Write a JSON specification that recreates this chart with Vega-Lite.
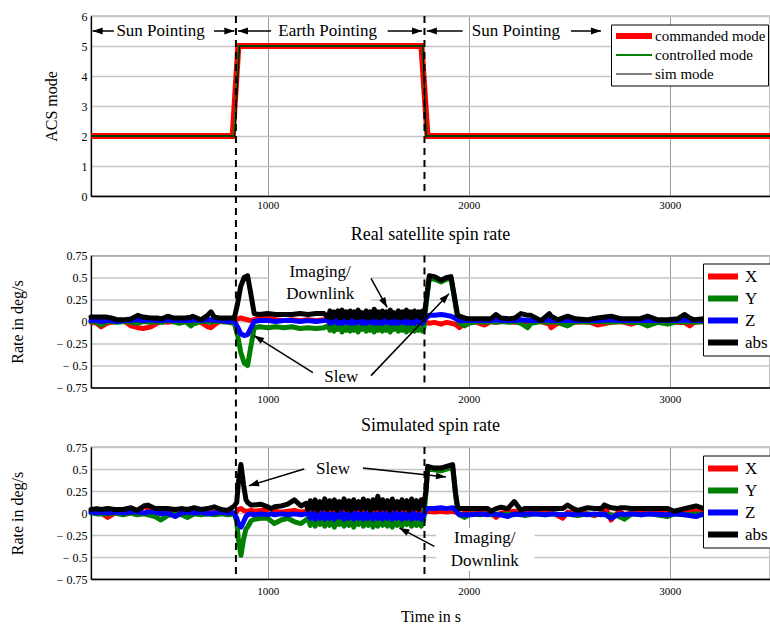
{
 "$schema": "https://vega.github.io/schema/vega-lite/v6.json",
 "padding": {"left": 8, "top": 9, "right": 0, "bottom": 0},
 "bounds": "flush",
 "spacing": 59.5,
 "resolve": {"scale": {"color": "independent", "strokeWidth": "independent", "x": "independent", "y": "independent"}, "legend": {"color": "independent", "strokeWidth": "independent"}},
 "config": {
  "font": "Liberation Serif",
  "view": {"stroke": "#333", "strokeWidth": 1.2},
  "axis": {"labelFont": "Liberation Serif", "titleFont": "Liberation Serif", "labelColor": "#000", "titleColor": "#000", "titleFontWeight": "normal", "titleFontSize": 16, "labelFontSize": 12, "domainColor": "#000", "domainWidth": 1.3, "ticks": false, "grid": true, "labelOverlap": false, "labelFlush": false, "labelSeparation": -20},
  "axisX": {"gridColor": "#999", "gridWidth": 1, "labelFontSize": 11, "labelPadding": 6},
  "axisY": {"gridColor": "#c4c4c4", "gridWidth": 1.5, "labelPadding": 4},
  "title": {"font": "Liberation Serif", "fontSize": 18, "fontWeight": "normal", "color": "#000", "offset": 6},
  "legend": {"labelFont": "Liberation Serif", "labelColor": "#000"}
 },
 "datasets": {
  "mode": [
   {"t": 121, "series": "commanded mode", "v": 2}, {"t": 826, "series": "commanded mode", "v": 2}, {"t": 854, "series": "commanded mode", "v": 5}, {"t": 1765, "series": "commanded mode", "v": 5}, {"t": 1795, "series": "commanded mode", "v": 2}, {"t": 3499, "series": "commanded mode", "v": 2},
   {"t": 121, "series": "controlled mode", "v": 2}, {"t": 832, "series": "controlled mode", "v": 2}, {"t": 857, "series": "controlled mode", "v": 5}, {"t": 1770, "series": "controlled mode", "v": 5}, {"t": 1790, "series": "controlled mode", "v": 2}, {"t": 3499, "series": "controlled mode", "v": 2},
   {"t": 121, "series": "sim mode", "v": 2}, {"t": 836, "series": "sim mode", "v": 2}, {"t": 860, "series": "sim mode", "v": 5}, {"t": 1772, "series": "sim mode", "v": 5}, {"t": 1788, "series": "sim mode", "v": 2}, {"t": 3499, "series": "sim mode", "v": 2}
  ],
  "real": [
   {"t":121,"X":-0.01,"Y":0,"Z":0.01,"abs":0.05},{"t":150,"X":-0.02,"Y":-0.01,"Z":0.01,"abs":0.05},{"t":171,"X":-0.06,"Y":-0.04,"Z":0,"abs":0.05},{"t":200,"X":-0.02,"Y":0,"Z":0.01,"abs":0.05},{"t":221,"X":-0.01,"Y":0,"Z":0.01,"abs":0.04},{"t":250,"X":0,"Y":-0.01,"Z":0,"abs":0.02},{"t":290,"X":0,"Y":0,"Z":0.01,"abs":0.02},{"t":320,"X":-0.05,"Y":-0.01,"Z":0.01,"abs":0.03},{"t":353,"X":-0.07,"Y":-0.02,"Z":0.02,"abs":0.07},{"t":380,"X":-0.08,"Y":0,"Z":0.01,"abs":0.05},{"t":419,"X":-0.06,"Y":-0.01,"Z":0.02,"abs":0.04},{"t":450,"X":-0.02,"Y":0,"Z":0.01,"abs":0.04},{"t":475,"X":0,"Y":-0.01,"Z":0.01,"abs":0.03},{"t":502,"X":-0.01,"Y":0.01,"Z":0.02,"abs":0.06},{"t":530,"X":0,"Y":0,"Z":0.01,"abs":0.04},{"t":560,"X":-0.01,"Y":-0.02,"Z":0.01,"abs":0.04},{"t":590,"X":0,"Y":0,"Z":0.01,"abs":0.04},{"t":619,"X":-0.01,"Y":-0.05,"Z":0.01,"abs":0.05},{"t":627,"X":0,"Y":-0.03,"Z":0.02,"abs":0.06},{"t":668,"X":-0.01,"Y":0,"Z":0.01,"abs":0.02},{"t":701,"X":-0.06,"Y":0,"Z":0.02,"abs":0.07},{"t":718,"X":-0.07,"Y":-0.01,"Z":0.02,"abs":0.11},{"t":734,"X":-0.04,"Y":0,"Z":0.01,"abs":0.05},{"t":760,"X":0,"Y":0,"Z":0.01,"abs":0.04},{"t":800,"X":0,"Y":-0.01,"Z":0,"abs":0.04},{"t":834,"X":0.01,"Y":-0.02,"Z":0,"abs":0.04},
   {"t":850,"X":0.03,"Y":-0.15,"Z":-0.06,"abs":0.2},{"t":866,"X":0.04,"Y":-0.35,"Z":-0.14,"abs":0.4},{"t":883,"X":0.03,"Y":-0.47,"Z":-0.16,"abs":0.5},{"t":900,"X":0.02,"Y":-0.5,"Z":-0.15,"abs":0.52},{"t":915,"X":0.01,"Y":-0.3,"Z":-0.08,"abs":0.33},{"t":933,"X":0.02,"Y":-0.07,"Z":0,"abs":0.09},{"t":960,"X":0.05,"Y":-0.06,"Z":0.01,"abs":0.08},{"t":1000,"X":0.04,"Y":-0.07,"Z":0.01,"abs":0.09},{"t":1040,"X":0.02,"Y":-0.06,"Z":0,"abs":0.08},{"t":1080,"X":0.01,"Y":-0.07,"Z":0.01,"abs":0.08},{"t":1120,"X":0.02,"Y":-0.06,"Z":0.01,"abs":0.08},{"t":1160,"X":0.01,"Y":-0.08,"Z":0,"abs":0.09},{"t":1200,"X":0.02,"Y":-0.07,"Z":0.01,"abs":0.08},{"t":1240,"X":0.01,"Y":-0.08,"Z":0,"abs":0.09},{"t":1280,"X":0.02,"Y":-0.07,"Z":0.01,"abs":0.09},
   {"t":1300,"X":0.01,"Y":-0.05,"Z":0.02,"abs":0.05},{"t":1310,"X":0.03,"Y":-0.1,"Z":-0.02,"abs":0.12},{"t":1320,"X":0,"Y":-0.04,"Z":0.02,"abs":0.04},{"t":1330,"X":0.02,"Y":-0.11,"Z":-0.01,"abs":0.11},{"t":1340,"X":0.01,"Y":-0.05,"Z":0.02,"abs":0.06},{"t":1350,"X":0.03,"Y":-0.09,"Z":-0.02,"abs":0.12},{"t":1360,"X":0,"Y":-0.04,"Z":0.01,"abs":0.04},{"t":1370,"X":0.02,"Y":-0.12,"Z":-0.02,"abs":0.13},{"t":1380,"X":0.01,"Y":-0.05,"Z":0.02,"abs":0.05},{"t":1390,"X":0.03,"Y":-0.1,"Z":-0.01,"abs":0.11},{"t":1400,"X":0,"Y":-0.03,"Z":0.02,"abs":0.04},{"t":1410,"X":0.02,"Y":-0.11,"Z":-0.02,"abs":0.12},{"t":1420,"X":0.01,"Y":-0.05,"Z":0.01,"abs":0.06},{"t":1430,"X":0.02,"Y":-0.1,"Z":-0.02,"abs":0.11},{"t":1440,"X":0,"Y":-0.04,"Z":0.02,"abs":0.04},{"t":1450,"X":0.03,"Y":-0.12,"Z":-0.01,"abs":0.13},{"t":1460,"X":0.01,"Y":-0.05,"Z":0.02,"abs":0.05},{"t":1470,"X":0.02,"Y":-0.09,"Z":-0.02,"abs":0.1},{"t":1480,"X":0,"Y":-0.04,"Z":0.02,"abs":0.05},{"t":1490,"X":0.03,"Y":-0.11,"Z":-0.02,"abs":0.12},{"t":1500,"X":0.01,"Y":-0.05,"Z":0.01,"abs":0.04},{"t":1510,"X":0.02,"Y":-0.1,"Z":-0.01,"abs":0.11},{"t":1520,"X":0,"Y":-0.04,"Z":0.02,"abs":0.05},{"t":1530,"X":0.03,"Y":-0.12,"Z":-0.02,"abs":0.14},{"t":1540,"X":0.01,"Y":-0.05,"Z":0.02,"abs":0.05},{"t":1550,"X":0.02,"Y":-0.1,"Z":-0.02,"abs":0.11},{"t":1560,"X":0,"Y":-0.04,"Z":0.01,"abs":0.04},{"t":1570,"X":0.03,"Y":-0.11,"Z":-0.02,"abs":0.12},{"t":1580,"X":0.01,"Y":-0.05,"Z":0.02,"abs":0.06},{"t":1590,"X":0.02,"Y":-0.1,"Z":-0.01,"abs":0.11},{"t":1600,"X":0,"Y":-0.04,"Z":0.02,"abs":0.04},{"t":1610,"X":0.03,"Y":-0.12,"Z":-0.02,"abs":0.13},{"t":1620,"X":0.01,"Y":-0.05,"Z":0.02,"abs":0.05},{"t":1630,"X":0.02,"Y":-0.09,"Z":-0.02,"abs":0.1},{"t":1640,"X":0,"Y":-0.04,"Z":0.01,"abs":0.05},{"t":1650,"X":0.03,"Y":-0.11,"Z":-0.02,"abs":0.12},{"t":1660,"X":0.01,"Y":-0.05,"Z":0.02,"abs":0.04},{"t":1670,"X":0.02,"Y":-0.1,"Z":-0.01,"abs":0.11},{"t":1680,"X":0,"Y":-0.04,"Z":0.02,"abs":0.05},{"t":1690,"X":0.03,"Y":-0.12,"Z":-0.02,"abs":0.13},{"t":1700,"X":0.01,"Y":-0.05,"Z":0.02,"abs":0.05},{"t":1710,"X":0.02,"Y":-0.1,"Z":-0.02,"abs":0.11},{"t":1720,"X":0,"Y":-0.04,"Z":0.01,"abs":0.04},{"t":1730,"X":0.03,"Y":-0.11,"Z":-0.02,"abs":0.12},{"t":1740,"X":0.01,"Y":-0.05,"Z":0.02,"abs":0.06},{"t":1750,"X":0.02,"Y":-0.1,"Z":-0.01,"abs":0.11},{"t":1760,"X":0,"Y":-0.04,"Z":0.02,"abs":0.04},{"t":1770,"X":0.02,"Y":-0.11,"Z":-0.02,"abs":0.12},{"t":1778,"X":0,"Y":-0.06,"Z":0.01,"abs":0.06},
   {"t":1788,"X":-0.01,"Y":0.2,"Z":0.04,"abs":0.22},{"t":1804,"X":-0.02,"Y":0.49,"Z":0.07,"abs":0.52},{"t":1830,"X":-0.01,"Y":0.48,"Z":0.07,"abs":0.51},{"t":1862,"X":-0.03,"Y":0.45,"Z":0.08,"abs":0.47},{"t":1890,"X":-0.01,"Y":0.48,"Z":0.07,"abs":0.5},{"t":1912,"X":-0.02,"Y":0.49,"Z":0.06,"abs":0.51},{"t":1930,"X":-0.03,"Y":0.25,"Z":0.04,"abs":0.27},{"t":1945,"X":-0.05,"Y":0.03,"Z":0.02,"abs":0.07},{"t":1954,"X":-0.07,"Y":-0.02,"Z":0.01,"abs":0.06},{"t":1979,"X":-0.02,"Y":-0.05,"Z":0.01,"abs":0.04},{"t":2000,"X":0,"Y":-0.02,"Z":0.01,"abs":0.03},{"t":2040,"X":-0.01,"Y":0,"Z":0.01,"abs":0.03},{"t":2078,"X":-0.04,"Y":-0.01,"Z":0.01,"abs":0.03},{"t":2110,"X":0,"Y":0,"Z":0.01,"abs":0.03},{"t":2136,"X":-0.01,"Y":-0.01,"Z":0.02,"abs":0.08},{"t":2160,"X":0,"Y":0,"Z":0.01,"abs":0.04},{"t":2200,"X":0,"Y":-0.01,"Z":0.01,"abs":0.03},{"t":2230,"X":-0.01,"Y":0,"Z":0.01,"abs":0.04},{"t":2260,"X":0,"Y":-0.02,"Z":0.02,"abs":0.09},{"t":2293,"X":-0.01,"Y":-0.07,"Z":0.01,"abs":0.07},{"t":2310,"X":0,"Y":-0.02,"Z":0.01,"abs":0.07},{"t":2360,"X":0,"Y":0,"Z":0.01,"abs":0.01},{"t":2401,"X":-0.03,"Y":-0.01,"Z":0.02,"abs":0.09},{"t":2410,"X":-0.07,"Y":0,"Z":0.01,"abs":0.06},{"t":2443,"X":-0.02,"Y":-0.01,"Z":0.01,"abs":0.02},{"t":2492,"X":0,"Y":-0.05,"Z":0.01,"abs":0.06},{"t":2530,"X":-0.01,"Y":0,"Z":0.01,"abs":0.03},{"t":2592,"X":0,"Y":-0.01,"Z":0.01,"abs":0.02},{"t":2640,"X":-0.04,"Y":0,"Z":0.01,"abs":0.04},{"t":2708,"X":-0.01,"Y":-0.01,"Z":0.02,"abs":0.06},{"t":2760,"X":0,"Y":0,"Z":0.01,"abs":0.03},{"t":2808,"X":-0.03,"Y":-0.01,"Z":0.01,"abs":0.03},{"t":2850,"X":0,"Y":-0.01,"Z":0.01,"abs":0.03},{"t":2890,"X":-0.01,"Y":-0.05,"Z":0.01,"abs":0.06},{"t":2940,"X":0,"Y":-0.01,"Z":0.01,"abs":0.02},{"t":2990,"X":0,"Y":-0.03,"Z":0.01,"abs":0.02},{"t":3040,"X":-0.01,"Y":0,"Z":0.01,"abs":0.03},{"t":3073,"X":-0.01,"Y":-0.01,"Z":0.02,"abs":0.08},{"t":3100,"X":-0.05,"Y":0,"Z":0.01,"abs":0.04},{"t":3122,"X":-0.01,"Y":-0.01,"Z":0.01,"abs":0.02},{"t":3170,"X":0,"Y":0,"Z":0.01,"abs":0.03},{"t":3250,"X":-0.01,"Y":-0.01,"Z":0.01,"abs":0.04},{"t":3330,"X":0,"Y":0,"Z":0.01,"abs":0.03},{"t":3420,"X":-0.01,"Y":-0.01,"Z":0.01,"abs":0.04},{"t":3499,"X":0,"Y":0,"Z":0.01,"abs":0.03}
  ],
  "sim": [
   {"t":121,"X":0.02,"Y":0,"Z":0.01,"abs":0.04},{"t":150,"X":0.03,"Y":-0.01,"Z":0,"abs":0.05},{"t":171,"X":0,"Y":-0.01,"Z":0.01,"abs":0.04},{"t":204,"X":-0.05,"Y":-0.01,"Z":0,"abs":0.05},{"t":240,"X":0,"Y":0,"Z":0.01,"abs":0.04},{"t":280,"X":0.01,"Y":-0.02,"Z":0,"abs":0.04},{"t":320,"X":0.02,"Y":0,"Z":0.01,"abs":0.06},{"t":350,"X":0,"Y":-0.02,"Z":0.01,"abs":0.03},{"t":386,"X":0.08,"Y":-0.01,"Z":0,"abs":0.08},{"t":403,"X":0.05,"Y":-0.02,"Z":0.01,"abs":0.09},{"t":440,"X":0,"Y":-0.04,"Z":0.01,"abs":0.05},{"t":469,"X":0.01,"Y":-0.08,"Z":-0.01,"abs":0.05},{"t":500,"X":0,"Y":-0.03,"Z":0,"abs":0.05},{"t":540,"X":0.01,"Y":-0.01,"Z":-0.04,"abs":0.04},{"t":570,"X":0,"Y":-0.02,"Z":0,"abs":0.05},{"t":602,"X":0.01,"Y":-0.05,"Z":0.01,"abs":0.04},{"t":635,"X":0,"Y":-0.01,"Z":0,"abs":0.06},{"t":668,"X":0.01,"Y":-0.02,"Z":0.01,"abs":0.04},{"t":701,"X":0,"Y":-0.01,"Z":-0.01,"abs":0.05},{"t":734,"X":0.01,"Y":-0.02,"Z":0,"abs":0.07},{"t":770,"X":0,"Y":-0.01,"Z":0.01,"abs":0.04},{"t":801,"X":0.01,"Y":-0.02,"Z":0,"abs":0.03},{"t":834,"X":0,"Y":-0.01,"Z":0,"abs":0.08},
   {"t":846,"X":0.02,"Y":-0.1,"Z":-0.06,"abs":0.12},{"t":854,"X":0.04,"Y":-0.3,"Z":-0.12,"abs":0.34},{"t":867,"X":0.05,"Y":-0.48,"Z":-0.16,"abs":0.55},{"t":880,"X":0.03,"Y":-0.3,"Z":-0.1,"abs":0.32},{"t":892,"X":0.02,"Y":-0.18,"Z":-0.04,"abs":0.15},{"t":900,"X":0.02,"Y":-0.16,"Z":-0.02,"abs":0.12},{"t":917,"X":0.03,"Y":-0.09,"Z":-0.01,"abs":0.09},{"t":933,"X":0.02,"Y":-0.07,"Z":-0.02,"abs":0.09},{"t":967,"X":0.03,"Y":-0.06,"Z":-0.01,"abs":0.1},{"t":1000,"X":0.04,"Y":-0.06,"Z":-0.02,"abs":0.07},{"t":1017,"X":0.05,"Y":-0.09,"Z":-0.01,"abs":0.05},{"t":1033,"X":0.02,"Y":-0.12,"Z":-0.02,"abs":0.07},{"t":1067,"X":0.01,"Y":-0.08,"Z":-0.01,"abs":0.08},{"t":1100,"X":0.02,"Y":-0.06,"Z":-0.02,"abs":0.1},{"t":1133,"X":0.03,"Y":-0.1,"Z":-0.01,"abs":0.15},{"t":1166,"X":0.01,"Y":-0.12,"Z":-0.02,"abs":0.08},{"t":1190,"X":0.02,"Y":-0.08,"Z":-0.01,"abs":0.11},
   {"t":1200,"X":0.01,"Y":-0.06,"Z":0,"abs":0.04},{"t":1212,"X":0.03,"Y":-0.14,"Z":-0.06,"abs":0.14},{"t":1224,"X":0,"Y":-0.07,"Z":0,"abs":0.05},{"t":1236,"X":0.02,"Y":-0.15,"Z":-0.07,"abs":0.15},{"t":1248,"X":0.01,"Y":-0.06,"Z":-0.01,"abs":0.03},{"t":1260,"X":0.03,"Y":-0.13,"Z":-0.06,"abs":0.13},{"t":1272,"X":0,"Y":-0.07,"Z":0,"abs":0.05},{"t":1284,"X":0.02,"Y":-0.15,"Z":-0.07,"abs":0.16},{"t":1296,"X":0.01,"Y":-0.06,"Z":0,"abs":0.04},{"t":1308,"X":0.03,"Y":-0.14,"Z":-0.06,"abs":0.14},{"t":1320,"X":0,"Y":-0.08,"Z":-0.01,"abs":0.05},{"t":1332,"X":0.02,"Y":-0.16,"Z":-0.07,"abs":0.15},{"t":1344,"X":0.01,"Y":-0.07,"Z":0,"abs":0.03},{"t":1356,"X":0.03,"Y":-0.13,"Z":-0.05,"abs":0.13},{"t":1368,"X":0,"Y":-0.06,"Z":0,"abs":0.05},{"t":1380,"X":0.02,"Y":-0.15,"Z":-0.07,"abs":0.16},{"t":1392,"X":0.01,"Y":-0.07,"Z":-0.01,"abs":0.04},{"t":1404,"X":0.03,"Y":-0.14,"Z":-0.06,"abs":0.14},{"t":1416,"X":0,"Y":-0.06,"Z":0,"abs":0.03},{"t":1428,"X":0.02,"Y":-0.16,"Z":-0.07,"abs":0.15},{"t":1440,"X":0.01,"Y":-0.08,"Z":0,"abs":0.05},{"t":1452,"X":0.03,"Y":-0.13,"Z":-0.06,"abs":0.13},{"t":1464,"X":0,"Y":-0.06,"Z":-0.01,"abs":0.04},{"t":1476,"X":0.02,"Y":-0.15,"Z":-0.07,"abs":0.16},{"t":1488,"X":0.01,"Y":-0.07,"Z":0,"abs":0.05},{"t":1500,"X":0.03,"Y":-0.14,"Z":-0.06,"abs":0.14},{"t":1512,"X":0,"Y":-0.06,"Z":0,"abs":0.03},{"t":1524,"X":0.02,"Y":-0.16,"Z":-0.07,"abs":0.15},{"t":1536,"X":0.01,"Y":-0.07,"Z":-0.01,"abs":0.05},{"t":1548,"X":0.03,"Y":-0.15,"Z":-0.06,"abs":0.19},{"t":1560,"X":0,"Y":-0.08,"Z":0,"abs":0.04},{"t":1572,"X":0.02,"Y":-0.14,"Z":-0.07,"abs":0.15},{"t":1584,"X":0.01,"Y":-0.06,"Z":0,"abs":0.05},{"t":1596,"X":0.03,"Y":-0.15,"Z":-0.06,"abs":0.14},{"t":1608,"X":0,"Y":-0.07,"Z":-0.01,"abs":0.03},{"t":1620,"X":0.02,"Y":-0.16,"Z":-0.07,"abs":0.16},{"t":1632,"X":0.01,"Y":-0.06,"Z":0,"abs":0.05},{"t":1644,"X":0.03,"Y":-0.14,"Z":-0.06,"abs":0.13},{"t":1656,"X":0,"Y":-0.07,"Z":0,"abs":0.04},{"t":1668,"X":0.02,"Y":-0.15,"Z":-0.07,"abs":0.15},{"t":1680,"X":0.01,"Y":-0.08,"Z":-0.01,"abs":0.05},{"t":1692,"X":0.03,"Y":-0.13,"Z":-0.06,"abs":0.14},{"t":1704,"X":0,"Y":-0.06,"Z":0,"abs":0.03},{"t":1716,"X":0.02,"Y":-0.15,"Z":-0.07,"abs":0.16},{"t":1728,"X":0.01,"Y":-0.07,"Z":0,"abs":0.05},{"t":1740,"X":0.03,"Y":-0.14,"Z":-0.06,"abs":0.14},{"t":1752,"X":0,"Y":-0.06,"Z":-0.01,"abs":0.04},{"t":1764,"X":0.02,"Y":-0.15,"Z":-0.07,"abs":0.15},{"t":1776,"X":0.01,"Y":-0.08,"Z":-0.03,"abs":0.08},
   {"t":1788,"X":0.01,"Y":0.25,"Z":0.04,"abs":0.26},{"t":1796,"X":0.02,"Y":0.5,"Z":0.05,"abs":0.53},{"t":1829,"X":0.01,"Y":0.49,"Z":0.05,"abs":0.51},{"t":1862,"X":0.02,"Y":0.48,"Z":0.06,"abs":0.51},{"t":1890,"X":0.01,"Y":0.5,"Z":0.05,"abs":0.53},{"t":1920,"X":0.02,"Y":0.52,"Z":0.06,"abs":0.55},{"t":1935,"X":0.01,"Y":0.2,"Z":0.03,"abs":0.22},{"t":1945,"X":0,"Y":0.02,"Z":0,"abs":0.07},{"t":1954,"X":-0.02,"Y":-0.02,"Z":-0.02,"abs":0.05},{"t":1979,"X":0,"Y":-0.05,"Z":-0.02,"abs":0.05},{"t":2010,"X":0.01,"Y":-0.01,"Z":-0.02,"abs":0.05},{"t":2060,"X":0,"Y":-0.02,"Z":-0.01,"abs":0.05},{"t":2094,"X":0.01,"Y":-0.01,"Z":-0.02,"abs":0.05},{"t":2111,"X":0,"Y":-0.02,"Z":-0.01,"abs":0.02},{"t":2136,"X":-0.05,"Y":-0.01,"Z":-0.02,"abs":0.05},{"t":2161,"X":0,"Y":-0.02,"Z":-0.02,"abs":0.065},{"t":2194,"X":0.01,"Y":-0.01,"Z":-0.04,"abs":0.05},{"t":2227,"X":0.02,"Y":-0.02,"Z":-0.01,"abs":0.13},{"t":2260,"X":0,"Y":-0.01,"Z":-0.02,"abs":0.03},{"t":2277,"X":0.01,"Y":-0.03,"Z":-0.01,"abs":0.05},{"t":2330,"X":0,"Y":-0.01,"Z":-0.01,"abs":0.05},{"t":2380,"X":0.01,"Y":-0.02,"Z":-0.02,"abs":0.05},{"t":2420,"X":0,"Y":-0.01,"Z":-0.01,"abs":0.05},{"t":2468,"X":-0.06,"Y":-0.02,"Z":-0.02,"abs":0.05},{"t":2492,"X":0.01,"Y":-0.01,"Z":-0.01,"abs":0.09},{"t":2520,"X":0,"Y":-0.02,"Z":-0.02,"abs":0.05},{"t":2542,"X":0.01,"Y":-0.03,"Z":-0.01,"abs":0.03},{"t":2592,"X":-0.01,"Y":-0.01,"Z":-0.02,"abs":0.06},{"t":2625,"X":-0.03,"Y":-0.02,"Z":-0.01,"abs":0.05},{"t":2660,"X":0,"Y":-0.01,"Z":-0.02,"abs":0.05},{"t":2675,"X":0.09,"Y":-0.02,"Z":-0.01,"abs":0.09},{"t":2708,"X":-0.08,"Y":-0.02,"Z":-0.06,"abs":0.06},{"t":2740,"X":0,"Y":-0.03,"Z":-0.02,"abs":0.05},{"t":2758,"X":0.01,"Y":-0.05,"Z":-0.01,"abs":0.06},{"t":2774,"X":-0.02,"Y":-0.07,"Z":-0.02,"abs":0.06},{"t":2810,"X":0,"Y":-0.01,"Z":-0.01,"abs":0.05},{"t":2860,"X":0.01,"Y":-0.02,"Z":-0.02,"abs":0.05},{"t":2900,"X":0,"Y":-0.01,"Z":-0.01,"abs":0.05},{"t":2990,"X":0.01,"Y":-0.04,"Z":-0.02,"abs":0.05},{"t":3023,"X":0,"Y":-0.01,"Z":-0.01,"abs":0.02},{"t":3073,"X":0.01,"Y":-0.02,"Z":-0.02,"abs":0.05},{"t":3131,"X":0.02,"Y":-0.01,"Z":-0.04,"abs":0.08},{"t":3170,"X":0,"Y":-0.02,"Z":-0.01,"abs":0.05},{"t":3250,"X":0.01,"Y":-0.01,"Z":-0.02,"abs":0.05},{"t":3330,"X":0,"Y":-0.02,"Z":-0.01,"abs":0.04},{"t":3420,"X":0.01,"Y":-0.01,"Z":-0.02,"abs":0.05},{"t":3499,"X":0,"Y":-0.02,"Z":-0.01,"abs":0.05}
  ]
 },
 "vconcat": [
  {
   "name": "p1",
   "width": 679, "height": 180,
   "encoding": {
    "x": {"field": "t", "type": "quantitative", "scale": {"domain": [121, 3499], "nice": false, "zero": false}, "axis": {"values": [1000, 2000, 3000], "format": "d", "title": null, "labelOverlap": false, "labelPadding": 3, "labelFontSize": 11}},
    "y": {"field": "v", "type": "quantitative", "scale": {"domain": [0, 6], "nice": false}, "axis": {"values": [0, 1, 2, 3, 4, 5, 6], "tickCount": 7, "format": "d", "labelOverlap": false, "title": "ACS mode", "titlePadding": 22, "labelFontSize": 12}}
   },
   "layer": [
    {
     "data": {"name": "mode"},
     "mark": {"type": "line", "strokeCap": "butt", "strokeJoin": "miter"},
     "encoding": {
      "color": {"field": "series", "type": "nominal", "scale": {"domain": ["commanded mode", "controlled mode", "sim mode"], "range": ["#ff0000", "#008000", "#000000"]},
       "legend": {"orient": "none", "legendX": 520, "legendY": 8.5, "title": null, "symbolType": "stroke", "symbolSize": 1296, "labelFont": "Liberation Serif", "labelFontSize": 15, "clipHeight": 19, "padding": 2, "rowPadding": 0, "labelOffset": 0, "strokeColor": "#000", "fillColor": "#fff"}},
      "strokeWidth": {"field": "series", "type": "nominal", "scale": {"type": "ordinal", "domain": ["commanded mode", "controlled mode", "sim mode"], "range": [6, 2, 1]},
       "legend": {"orient": "none", "legendX": 520, "legendY": 8.5, "title": null, "symbolType": "stroke", "symbolSize": 1296, "labelFont": "Liberation Serif", "labelFontSize": 15, "clipHeight": 19, "padding": 2, "rowPadding": 0, "labelOffset": 0, "strokeColor": "#000", "fillColor": "#fff"}}
     }
    },
    {
     "data": {"values": [{"t": 467, "v": 5.5, "text": "Sun Pointing"}, {"t": 1298, "v": 5.5, "text": "Earth Pointing"}, {"t": 2235, "v": 5.5, "text": "Sun Pointing"}]},
     "mark": {"type": "text", "font": "Liberation Serif", "fontSize": 17, "color": "#000", "align": "center", "baseline": "middle"},
     "encoding": {"text": {"field": "text"}}
    },
    {
     "data": {"values": [{"t2": 235, "v2": 5.5, "t": 129, "v": 5.5}, {"t2": 733, "v2": 5.5, "t": 834, "v": 5.5}, {"t2": 1017, "v2": 5.5, "t": 852, "v": 5.5}, {"t2": 1597, "v2": 5.5, "t": 1768, "v": 5.5}, {"t2": 1970, "v2": 5.5, "t": 1792, "v": 5.5}, {"t2": 2509, "v2": 5.5, "t": 2658, "v": 5.5}]},
     "layer": [
      {"mark": {"type": "rule", "strokeWidth": 1.5, "color": "#000"},
       "encoding": {"x2": {"field": "t2"}, "y2": {"field": "v2"}}},
      {"mark": {"type": "point", "shape": "M0,0L-0.7,2L0.7,2Z", "size": 100, "filled": true, "color": "#000", "opacity": 1, "strokeWidth": 0,
        "angle": {"expr": "atan2(scale('p1_x', datum.t) - scale('p1_x', datum.t2), scale('p1_y', datum.v2) - scale('p1_y', datum.v)) * 180 / PI"}}}
     ]
    },
    {
     "data": {"values": [{"t": 842, "v": 6, "v2": -1.98}, {"t": 1780, "v": 6, "v2": 0}]},
     "mark": {"type": "rule", "strokeDash": [7, 5], "strokeWidth": 2, "color": "#000"},
     "encoding": {"y2": {"field": "v2"}}
    }
   ]
  },
  {
   "name": "p2",
   "width": 679, "height": 132,
   "title": {"text": "Real satellite spin rate"},
   "encoding": {
    "x": {"field": "t", "type": "quantitative", "scale": {"domain": [121, 3499], "nice": false, "zero": false}, "axis": {"values": [1000, 2000, 3000], "format": "d", "title": null, "labelOverlap": false, "labelFontSize": 11}},
    "y": {"field": "v", "type": "quantitative", "scale": {"domain": [-0.75, 0.75], "nice": false}, "axis": {"values": [-0.75, -0.5, -0.25, 0, 0.25, 0.5, 0.75], "tickCount": 7, "labelOverlap": false, "labelExpr": "datum.value < 0 ? '\u2212 ' + format(-datum.value, '~g') : format(datum.value, '~g')", "title": "Rate in deg/s", "titlePadding": 31, "labelFontSize": 12}}
   },
   "layer": [
    {
     "data": {"name": "real"},
     "transform": [{"fold": ["X", "Y", "Z", "abs"], "as": ["series", "v"]}],
     "mark": {"type": "line", "strokeWidth": 5, "strokeCap": "round", "strokeJoin": "round"},
     "encoding": {
      "color": {"field": "series", "type": "nominal", "scale": {"domain": ["X", "Y", "Z", "abs"], "range": ["#ff0000", "#008000", "#0000ff", "#000000"]},
       "legend": {"orient": "none", "legendX": 612, "legendY": 8, "title": null, "symbolType": "stroke", "symbolSize": 900, "symbolStrokeWidth": 6, "labelFont": "Liberation Serif", "labelFontSize": 17, "clipHeight": 22, "padding": 2, "rowPadding": 0, "labelOffset": 4, "strokeColor": "#000", "fillColor": "#fff"}}
     }
    },
    {
     "data": {"values": [{"t": 1008, "t2": 1514, "v": 0.2, "v2": 0.7}]},
     "mark": {"type": "rect", "color": "#fff", "opacity": 1},
     "encoding": {"x2": {"field": "t2"}, "y2": {"field": "v2"}}
    },
    {
     "data": {"values": [{"t": 1261, "v": 0.56, "text": "Imaging/"}, {"t": 1261, "v": 0.31, "text": "Downlink"}, {"t": 1366, "v": -0.63, "text": "Slew"}]},
     "mark": {"type": "text", "font": "Liberation Serif", "fontSize": 17, "color": "#000", "align": "center", "baseline": "middle"},
     "encoding": {"text": {"field": "text"}}
    },
    {
     "data": {"values": [{"t2": 1514, "v2": 0.49, "t": 1594, "v": 0.16}, {"t2": 1225, "v2": -0.58, "t": 932, "v": -0.16}, {"t2": 1514, "v2": -0.615, "t": 1902, "v": 0.315}]},
     "layer": [
      {"mark": {"type": "rule", "strokeWidth": 1.5, "color": "#000"},
       "encoding": {"x2": {"field": "t2"}, "y2": {"field": "v2"}}},
      {"mark": {"type": "point", "shape": "M0,0L-0.7,2L0.7,2Z", "size": 100, "filled": true, "color": "#000", "opacity": 1, "strokeWidth": 0,
        "angle": {"expr": "atan2(scale('p2_x', datum.t) - scale('p2_x', datum.t2), scale('p2_y', datum.v2) - scale('p2_y', datum.v)) * 180 / PI"}}}
     ]
    },
    {
     "data": {"values": [{"t": 842, "v": 0.75, "v2": -1.433}, {"t": 1780, "v": 0.75, "v2": -0.75}]},
     "mark": {"type": "rule", "strokeDash": [7, 5], "strokeWidth": 2, "color": "#000"},
     "encoding": {"y2": {"field": "v2"}}
    }
   ]
  },
  {
   "name": "p3",
   "width": 679, "height": 132,
   "title": {"text": "Simulated spin rate"},
   "encoding": {
    "x": {"field": "t", "type": "quantitative", "scale": {"domain": [121, 3499], "nice": false, "zero": false}, "axis": {"values": [1000, 2000, 3000], "format": "d", "title": "Time in s", "titlePadding": 12, "labelOverlap": false, "labelFontSize": 11}},
    "y": {"field": "v", "type": "quantitative", "scale": {"domain": [-0.75, 0.75], "nice": false}, "axis": {"values": [-0.75, -0.5, -0.25, 0, 0.25, 0.5, 0.75], "tickCount": 7, "labelOverlap": false, "labelExpr": "datum.value < 0 ? '\u2212 ' + format(-datum.value, '~g') : format(datum.value, '~g')", "title": "Rate in deg/s", "titlePadding": 31, "labelFontSize": 12}}
   },
   "layer": [
    {
     "data": {"name": "sim"},
     "transform": [{"fold": ["X", "Y", "Z", "abs"], "as": ["series", "v"]}],
     "mark": {"type": "line", "strokeWidth": 5, "strokeCap": "round", "strokeJoin": "round"},
     "encoding": {
      "color": {"field": "series", "type": "nominal", "scale": {"domain": ["X", "Y", "Z", "abs"], "range": ["#ff0000", "#008000", "#0000ff", "#000000"]},
       "legend": {"orient": "none", "legendX": 612, "legendY": 8.5, "title": null, "symbolType": "stroke", "symbolSize": 900, "symbolStrokeWidth": 6, "labelFont": "Liberation Serif", "labelFontSize": 17, "clipHeight": 22, "padding": 2, "rowPadding": 0, "labelOffset": 4, "strokeColor": "#000", "fillColor": "#fff"}}
     }
    },
    {
     "data": {"values": [{"t": 1191, "t2": 1474, "v": 0.4, "v2": 0.62}, {"t": 1838, "t2": 2327, "v": -0.17, "v2": -0.66}]},
     "mark": {"type": "rect", "color": "#fff", "opacity": 1},
     "encoding": {"x2": {"field": "t2"}, "y2": {"field": "v2"}}
    },
    {
     "data": {"values": [{"t": 1325, "v": 0.505, "text": "Slew"}, {"t": 2080, "v": -0.285, "text": "Imaging/"}, {"t": 2080, "v": -0.54, "text": "Downlink"}]},
     "mark": {"type": "text", "font": "Liberation Serif", "fontSize": 17, "color": "#000", "align": "center", "baseline": "middle"},
     "encoding": {"text": {"field": "text"}}
    },
    {
     "data": {"values": [{"t2": 1181, "v2": 0.5, "t": 907, "v": 0.31}, {"t2": 1474, "v2": 0.51, "t": 1887, "v": 0.41}, {"t2": 1829, "v2": -0.38, "t": 1655, "v": -0.17}]},
     "layer": [
      {"mark": {"type": "rule", "strokeWidth": 1.5, "color": "#000"},
       "encoding": {"x2": {"field": "t2"}, "y2": {"field": "v2"}}},
      {"mark": {"type": "point", "shape": "M0,0L-0.7,2L0.7,2Z", "size": 100, "filled": true, "color": "#000", "opacity": 1, "strokeWidth": 0,
        "angle": {"expr": "atan2(scale('p3_x', datum.t) - scale('p3_x', datum.t2), scale('p3_y', datum.v2) - scale('p3_y', datum.v)) * 180 / PI"}}}
     ]
    },
    {
     "data": {"values": [{"t": 842, "v": 0.75, "v2": -0.75}, {"t": 1780, "v": 0.75, "v2": -0.75}]},
     "mark": {"type": "rule", "strokeDash": [7, 5], "strokeWidth": 2, "color": "#000"},
     "encoding": {"y2": {"field": "v2"}}
    }
   ]
  }
 ]
}
